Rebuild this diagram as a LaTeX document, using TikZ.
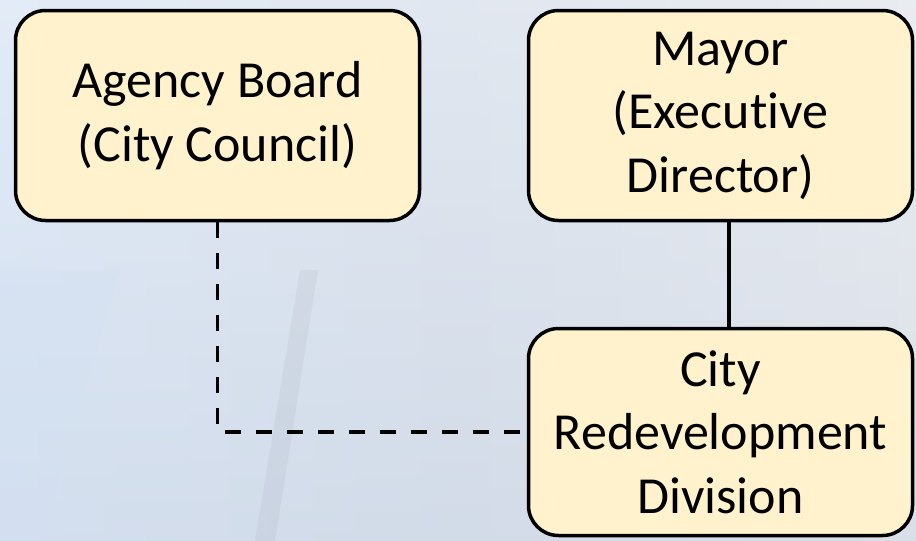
\documentclass[tikz,border=0pt]{standalone}
\usepackage{fontspec}
\setmainfont{Carlito}[Ligatures={NoCommon,NoContextual}]
\definecolor{boxfill}{RGB}{255,242,204}
\definecolor{bgleft}{RGB}{211,225,243}
\definecolor{bgmid}{RGB}{210,219,232}
\definecolor{bgright}{RGB}{222,226,233}
\begin{document}
\begin{tikzpicture}[x=1pt,y=-1pt,
  box/.style={draw=black, line width=3.5pt, fill=boxfill, rounded corners=30pt,
    align=center, inner sep=0pt, font=\fontsize{52}{63.5}\selectfont},
  conn/.style={line width=3.5pt, black},
  dconn/.style={conn, dash pattern=on 16pt off 15pt}]
% background
\shade[left color=bgleft, right color=bgright, middle color=bgmid] (0,0) rectangle (916,541);
\shade[top color=white, bottom color=bgmid, opacity=0.35] (0,0) rectangle (916,541);
\fill[bgleft, opacity=0.4] (0,270) -- (120,270) -- (40,541) -- (0,541) -- cycle;
\fill[black!30!bgmid, opacity=0.12] (300,270) -- (318,270) -- (275,541) -- (255,541) -- cycle;
\useasboundingbox (0,0) rectangle (916,541);
% nodes
\node[box, minimum width=404pt, minimum height=210pt] (A) at (217.5,115.5) {Agency Board\\(City Council)};
\node[box, minimum width=384pt, minimum height=210pt] (M) at (720.5,115.5) {Mayor\\(Executive\\Director)};
\node[box, minimum width=384pt, minimum height=207pt] (C) at (720.5,432) {City\\Redevelopment\\Division};
\coordinate (L) at (729,0);
% connectors
\draw[conn] (M.south -| L) -- (C.north -| L);
\draw[dconn] (A.south) |- (C.west);
\end{tikzpicture}
\end{document}
